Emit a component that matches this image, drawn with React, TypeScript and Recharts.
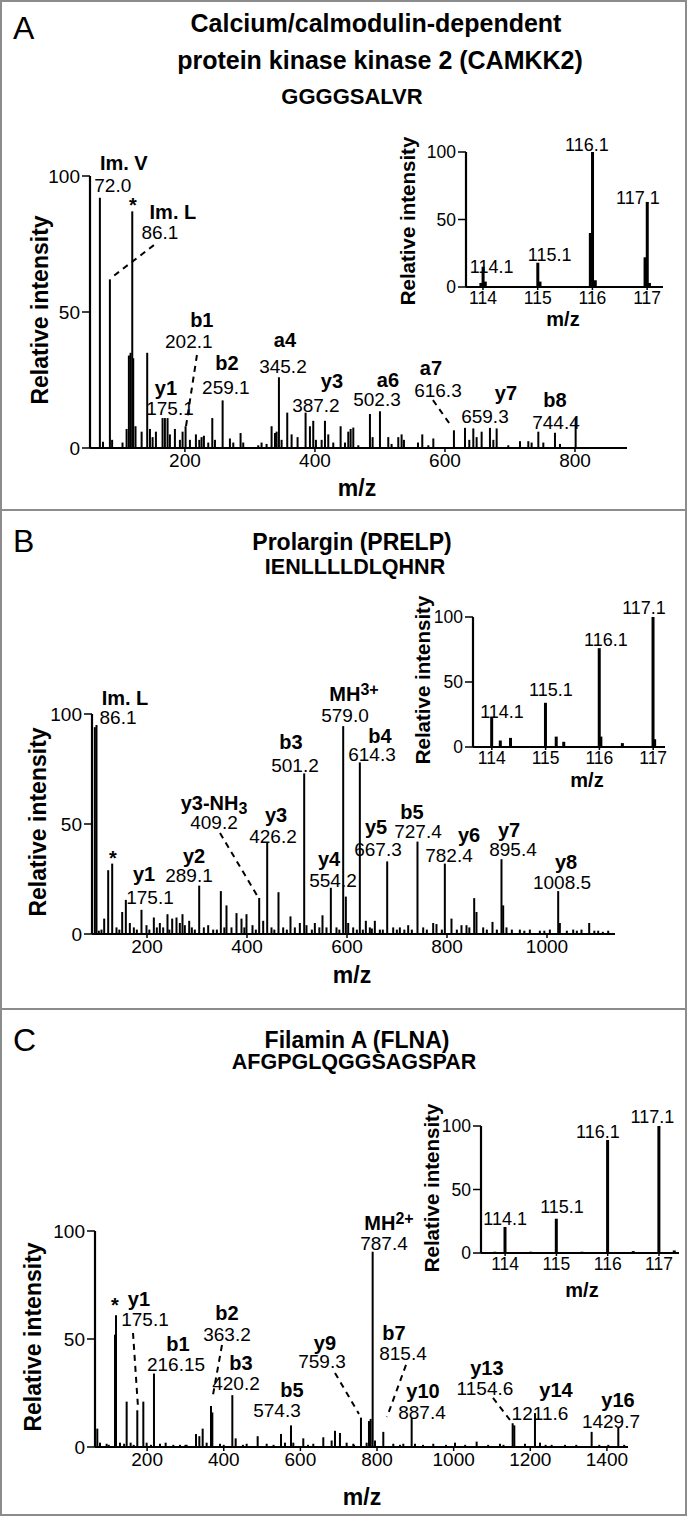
import React from 'react';
import { BarChart, Bar, XAxis, YAxis, ReferenceDot, ReferenceLine } from 'recharts';

type Pair = [number, number];
type Note = { t: string; b?: boolean; x: number; y: number; sub?: string; sup?: string };
type Seg = [number, number, number, number];

const FONT = '"Liberation Sans", Arial, Helvetica, sans-serif';

const yTicks = [0, 50, 100];
const reporterTicks = [114, 115, 116, 117];

// ---------- A: CAMKK2 ----------
const titleA = ['Calcium/calmodulin-dependent', 'protein kinase kinase 2 (CAMKK2)', 'GGGGSALVR'];
const ticksA = [200, 400, 600, 800];
// [m/z, relative intensity]
const spectrumA: Pair[] = [
  [69.2, 92], [74, 2.3], [84.6, 62], [88, 3], [104, 2], [110.3, 7], [113.8, 34], [116.4, 35], [119, 87], [120.5, 33],
  [124, 8], [133.4, 6], [142, 35], [146.2, 7], [150.3, 4], [155.4, 6], [165.6, 11], [169.2, 11], [173.3, 11], [176.9, 5],
  [184.6, 7], [192.3, 3], [196.4, 6], [201, 8], [207.7, 3], [216.9, 5], [222.1, 3], [225.6, 4], [229.2, 4.5], [235.9, 2],
  [242.1, 11], [246.2, 3], [258, 17.5], [269.2, 3.5], [274.4, 2], [285.6, 5.5], [289.7, 2], [312.8, 1], [317.9, 2], [325.6, 1.5],
  [333.3, 8], [338.5, 5.5], [341, 6], [344.6, 26], [348.7, 3], [357.4, 13], [364.1, 5], [373.3, 4], [385.6, 13], [392.3, 8],
  [397.4, 10], [401.5, 3], [410.3, 3], [415.4, 10], [420.5, 5], [428.2, 2], [439.5, 8], [446.2, 2], [451.3, 6], [454.9, 7],
  [459, 7.5], [466.7, 1], [484.6, 12.5], [488.7, 4], [500, 13.5], [512.8, 4], [517.9, 1.5], [528.2, 4], [533.3, 5], [536.9, 3],
  [558.5, 2], [565.1, 5], [574.4, 1], [582.1, 3.5], [613.8, 6.5], [630.8, 7.4], [637.4, 3], [643.6, 7.2], [648.7, 4], [656.4, 6],
  [669.2, 7.4], [674.4, 3], [679.5, 7.2], [697.4, 1], [715.4, 2.5], [728.2, 2.5], [733.3, 2], [743.6, 6], [751.3, 2], [769.2, 5.6],
  [776.9, 1.5], [801, 11],
];
const reporterA: Pair[] = [
  [113.96, 3], [114, 15], [114.04, 4], [115, 18], [115.04, 4], [115.96, 40], [116, 100], [116.05, 5], [116.96, 22], [117, 63], [117.04, 3],
];
const notesA: Note[] = [
  { t: 'Im. V', b: true, x: 106, y: 104.6 }, { t: '72.0', x: 89, y: 96.5 },
  { t: '*', b: true, x: 120, y: 92 },
  { t: 'Im. L', b: true, x: 181.5, y: 86.8 }, { t: '86.1', x: 161.5, y: 79.4 },
  { t: 'b1', b: true, x: 226, y: 47.1 }, { t: '202.1', x: 206, y: 39 },
  { t: 'b2', b: true, x: 264.6, y: 31.2 }, { t: '259.1', x: 263, y: 22.4 },
  { t: 'y1', b: true, x: 170.8, y: 22.1 }, { t: '175.1', x: 177, y: 14.7 },
  { t: 'a4', b: true, x: 353.8, y: 39.7 }, { t: '345.2', x: 350.8, y: 30.1 },
  { t: 'y3', b: true, x: 426.2, y: 24.6 }, { t: '387.2', x: 401.5, y: 15.8 },
  { t: 'a6', b: true, x: 512.3, y: 25 }, { t: '502.3', x: 495.4, y: 18 },
  { t: 'a7', b: true, x: 578.5, y: 29.4 }, { t: '616.3', x: 589.2, y: 21.3 },
  { t: 'y7', b: true, x: 693.8, y: 20.2 }, { t: '659.3', x: 661.5, y: 11.4 },
  { t: 'b8', b: true, x: 769.2, y: 17.6 }, { t: '744.4', x: 770.8, y: 9.2 },
];
const leadersA: Seg[] = [[152.3, 74.6, 86.2, 62.5], [218.5, 34.2, 201.5, 7.7], [581.5, 17.6, 610.8, 7.7]];
const insetNotesA: Note[] = [
  { t: '114.1', x: 114.16, y: 14.8 }, { t: '115.1', x: 115.22, y: 23.7 },
  { t: '116.1', x: 115.9, y: 105.2 }, { t: '117.1', x: 116.83, y: 65.9 },
];

// ---------- B: PRELP ----------
const titleB = ['Prolargin (PRELP)', 'IENLLLLDLQHNR'];
const ticksB = [200, 400, 600, 800, 1000];
const spectrumB: Pair[] = [
  [96, 94], [99.3, 95], [104, 1.5], [109.3, 2], [114.7, 7], [122.7, 29], [130.7, 32], [139.3, 3], [145, 2], [150.7, 10],
  [158, 15.5], [166, 5], [174, 3], [180, 2], [189.3, 11], [199.3, 4], [205, 2], [214, 7.5], [220, 3], [226, 5],
  [232.7, 3], [241.3, 9], [245, 2], [250.7, 7], [259.3, 7.5], [266, 5], [271.3, 9], [276, 4], [284.7, 6], [290, 3],
  [296, 2], [304.7, 22], [314, 3], [322.7, 4], [332.7, 2], [340, 2], [348, 19.5], [355, 3], [359.3, 13], [369.3, 3],
  [379.3, 9.5], [389.3, 7], [395, 3], [399.3, 9], [411.3, 4], [418, 2], [424.7, 16.4], [432.7, 6], [440.7, 41.4], [449.3, 3],
  [455, 2], [463.3, 19], [472.7, 3], [480, 2], [487.3, 8], [496, 3], [506, 5], [514.7, 73], [519.3, 4], [530, 2],
  [536, 5], [545, 3], [551.3, 8.5], [559.3, 3], [568, 21], [579.3, 3], [585, 2], [592.7, 94.5], [598, 17], [602.7, 5],
  [612.7, 3], [620, 2], [626, 78], [632, 2], [638, 6], [646, 3], [650, 2.5], [656, 6], [666, 2], [672, 2],
  [680.7, 33], [692.7, 3], [700, 2], [706, 3], [715, 2], [722.7, 4], [730, 2], [741.3, 42], [752.7, 3], [760, 2],
  [772.7, 5], [779.3, 4.5], [790, 2], [796, 32], [809.3, 7], [820, 2], [829.3, 4], [839.3, 4], [845, 3], [854.7, 16.3],
  [859.3, 10], [872.7, 3], [880, 2], [891.3, 5.5], [900, 2], [909.3, 34], [912.7, 13], [919.3, 3], [930, 2], [946, 2],
  [955, 1.5], [966, 2], [986, 1.5], [995, 1.5], [1006, 2], [1022.7, 19.5], [1026, 5], [1040, 1.5], [1052.7, 2], [1060, 1.5],
  [1069.3, 2], [1084.7, 5], [1095, 1.5], [1102.7, 1.5], [1112, 1], [1122.7, 1.5],
];
const reporterB: Pair[] = [
  [114, 23], [114.16, 5], [114.35, 7], [115, 34], [115.2, 8], [115.34, 4], [116, 76], [116.03, 8], [116.43, 3], [117, 100], [117.03, 6],
];
const notesB: Note[] = [
  { t: 'Im. L', b: true, x: 156, y: 107.3 }, { t: '86.1', x: 142, y: 98.6 },
  { t: '*', b: true, x: 132, y: 38 },
  { t: 'y1', b: true, x: 194, y: 27.3 }, { t: '175.1', x: 206, y: 16.8 },
  { t: 'y2', b: true, x: 294, y: 35.5 }, { t: '289.1', x: 284, y: 26.4 },
  { t: 'y3-NH', sub: '3', b: true, x: 334, y: 59.5 }, { t: '409.2', x: 334, y: 50.9 },
  { t: 'y3', b: true, x: 458, y: 54.1 }, { t: '426.2', x: 452, y: 44.5 },
  { t: 'b3', b: true, x: 488, y: 87.3 }, { t: '501.2', x: 496, y: 76.8 },
  { t: 'y4', b: true, x: 564, y: 34.1 }, { t: '554.2', x: 572, y: 24.5 },
  { t: 'MH', sup: '3+', b: true, x: 614, y: 109.1 }, { t: '579.0', x: 596, y: 99.1 },
  { t: 'b4', b: true, x: 666, y: 90 }, { t: '614.3', x: 650, y: 81.4 },
  { t: 'y5', b: true, x: 658, y: 48.6 }, { t: '667.3', x: 662, y: 38.6 },
  { t: 'b5', b: true, x: 730, y: 55.5 }, { t: '727.4', x: 742, y: 46.4 },
  { t: 'y6', b: true, x: 844, y: 45 }, { t: '782.4', x: 804, y: 35.9 },
  { t: 'y7', b: true, x: 924, y: 47.3 }, { t: '895.4', x: 932, y: 38.2 },
  { t: 'y8', b: true, x: 1038, y: 32.7 }, { t: '1008.5', x: 1030, y: 23.2 },
];
const leadersB: Seg[] = [[346, 45.9, 422, 16.8]];
const insetNotesB: Note[] = [
  { t: '114.1', x: 114.19, y: 26.9 }, { t: '115.1', x: 115.1, y: 43.8 },
  { t: '116.1', x: 116.12, y: 82.3 }, { t: '117.1', x: 116.83, y: 106.9 },
];

// ---------- C: FLNA ----------
const titleC = ['Filamin A (FLNA)', 'AFGPGLQGGSAGSPAR'];
const ticksC = [200, 400, 600, 800, 1000, 1200, 1400];
const spectrumC: Pair[] = [
  [70, 8.5], [77, 2], [94.4, 1.5], [100, 1], [116.2, 52], [118.8, 61], [129.2, 2], [140, 1.5], [146.6, 21], [157, 2],
  [165, 1], [174.4, 17], [190.1, 21], [198.8, 2], [210, 1], [217.9, 34], [233.6, 1.5], [248.4, 2], [268.4, 1], [285.8, 1],
  [300, 1], [303.2, 1], [327.6, 6], [336.3, 5], [345, 8.5], [355.4, 2], [366.7, 19], [370.2, 16], [390.2, 1.5], [400, 1],
  [422.4, 24], [431.1, 4], [450, 1], [459.8, 1.5], [488.5, 5], [512, 1.5], [530, 1], [549.4, 6], [559.8, 2], [575.5, 10],
  [581.5, 2], [607.6, 4], [620, 1], [633.7, 1.5], [659.8, 4.5], [681.6, 3], [690.3, 7.5], [703.3, 6.5], [720.7, 2], [738.1, 1.5],
  [740, 1], [758.1, 13.6], [772.9, 2], [779, 12], [783.4, 13], [788.6, 90.4], [794.7, 3], [816.4, 7], [842.5, 1.5], [860, 1],
  [868.6, 1.5], [890.4, 13.6], [899.1, 1.5], [920, 1], [946.8, 1.5], [980, 1], [1003.5, 2], [1030, 1], [1060, 2.5], [1090, 1],
  [1120.9, 1.5], [1130, 1], [1154, 11], [1158.3, 10], [1186.1, 1.5], [1212.2, 15.7], [1225.3, 2], [1240, 1], [1255.7, 1], [1290.5, 1],
  [1320, 1], [1360.1, 7], [1380, 1], [1403.6, 1], [1429.7, 8.8], [1445, 1],
];
const reporterC: Pair[] = [
  [113.8, 1], [114, 20.5], [114.5, 1], [115, 27], [115.5, 1], [116, 89], [116.5, 1.5], [117, 100], [117.3, 2],
];
const notesC: Note[] = [
  { t: '*', b: true, x: 116.2, y: 69 },
  { t: 'y1', b: true, x: 178.8, y: 68.5 }, { t: '175.1', x: 194.5, y: 58.8 },
  { t: 'b1', b: true, x: 280.6, y: 47.7 }, { t: '216.15', x: 275.4, y: 38.4 },
  { t: 'b2', b: true, x: 408.5, y: 62 }, { t: '363.2', x: 408.5, y: 52.3 },
  { t: 'b3', b: true, x: 445, y: 38.9 }, { t: '420.2', x: 432, y: 29.6 },
  { t: 'b5', b: true, x: 578.1, y: 26.4 }, { t: '574.3', x: 539, y: 17.1 },
  { t: 'y9', b: true, x: 664.2, y: 48.1 }, { t: '759.3', x: 656.4, y: 39.4 },
  { t: 'MH', sup: '2+', b: true, x: 831.2, y: 103.7 }, { t: '787.4', x: 818.2, y: 94 },
  { t: 'b7', b: true, x: 844.3, y: 52.8 }, { t: '815.4', x: 867.8, y: 43.1 },
  { t: 'y10', b: true, x: 919.9, y: 25.9 }, { t: '887.4', x: 917.3, y: 16.2 },
  { t: 'y13', b: true, x: 1086.9, y: 36.6 }, { t: '1154.6', x: 1081.7, y: 27.3 },
  { t: 'y14', b: true, x: 1267, y: 26.4 }, { t: '1211.6', x: 1225.2, y: 15.7 },
  { t: 'y16', b: true, x: 1428.8, y: 21.8 }, { t: '1429.7', x: 1410.6, y: 11.6 },
];
const leadersC: Seg[] = [
  [163.2, 52.8, 176.2, 18.5], [395.4, 47.2, 371.9, 24.1], [690.3, 34.3, 752.9, 15.3],
  [875.6, 38, 826, 13.9], [1102.6, 22.7, 1147, 12.5],
];
const insetNotesC: Note[] = [
  { t: '114.1', x: 114, y: 26.8 }, { t: '115.1', x: 115.11, y: 36.2 },
  { t: '116.1', x: 115.81, y: 95.3 }, { t: '117.1', x: 116.87, y: 107.1 },
];

// chart boxes: left, top, width, height, yAxis width, margin top, margin right, xAxis height
const boxes = {
  mainA: [0, 120, 660, 360, 90, 56, 33, 32],
  insetA: [376, 130, 307, 187, 90, 22, 20, 30],
  mainB: [0, 660, 640, 306, 92, 54, 25, 32],
  insetB: [383, 595, 302, 182, 90, 22, 20, 30],
  mainC: [0, 1180, 650, 299, 95, 51, 22, 32],
  insetC: [391, 1104, 296, 179, 90, 22, 8, 30],
};

const stick = (w: number) => (p: any) => {
  const cx = p.x + p.width / 2;
  return <rect x={cx - w / 2} y={p.y} width={w} height={Math.max(0, p.height)} fill="#000" />;
};

const noteShape = (n: Note, size: number, bsize: number) => (p: any) => (
  <text
    x={p.cx}
    y={p.cy}
    textAnchor="middle"
    dominantBaseline={n.t === '*' ? 'hanging' : 'central'}
    fontSize={n.b ? bsize : size}
    fontWeight={n.b ? 700 : 400}
    fontFamily={FONT}
    fill="#000"
  >
    {n.t}
    {n.sub && <tspan dy={5} fontSize={bsize * 0.8}>{n.sub}</tspan>}
    {n.sup && <tspan dy={-5} fontSize={bsize * 0.8}>{n.sup}</tspan>}
  </text>
);

function Spectrum({ box, domain, xTicks, peaks, notes, leaders = [], barW, font, noteFont, nameFont, xTickSize = 4 }: any) {
  const [left, top, width, height, yW, mTop, mRight, xH] = box;
  const data = peaks.map(([mz, i]: Pair) => ({ mz, i }));
  return (
    <div style={{ position: 'absolute', left, top }}>
      <BarChart width={width} height={height} data={data} margin={{ top: mTop, right: mRight, bottom: 0, left: 0 }}>
        <XAxis
          type="number"
          dataKey="mz"
          domain={domain}
          allowDataOverflow
          ticks={xTicks}
          interval={0}
          height={xH}
          tickSize={xTickSize}
          tickLine={{ stroke: '#000', strokeWidth: 1.5 }}
          axisLine={{ stroke: '#000', strokeWidth: 2.2 }}
          tick={{ fontSize: font, fill: '#000', fontFamily: FONT }}
        />
        <YAxis
          type="number"
          domain={[0, 100]}
          allowDataOverflow
          ticks={yTicks}
          interval={0}
          width={yW}
          tickSize={8}
          tickLine={{ stroke: '#000', strokeWidth: 1.5 }}
          axisLine={{ stroke: '#000', strokeWidth: 2.2 }}
          tick={{ fontSize: font, fill: '#000', fontFamily: FONT }}
        />
        <Bar dataKey="i" isAnimationActive={false} shape={stick(barW)} />
        {leaders.map((s: Seg, k: number) => (
          <ReferenceLine
            key={'l' + k}
            segment={[{ x: s[0], y: s[1] }, { x: s[2], y: s[3] }]}
            stroke="#000"
            strokeWidth={2}
            strokeDasharray="6 5"
            ifOverflow="visible"
          />
        ))}
        {notes.map((n: Note, k: number) => (
          <ReferenceDot key={'n' + k} x={n.x} y={n.y} r={0} ifOverflow="visible" shape={noteShape(n, noteFont, nameFont)} />
        ))}
      </BarChart>
    </div>
  );
}

const Txt = ({ x, y, size, bold, rot, left, children }: any) => (
  <div
    style={{
      position: 'absolute',
      left: x,
      top: y,
      transform: `translate(${left ? '0' : '-50%'},-50%)${rot ? ' rotate(-90deg)' : ''}`,
      fontSize: size,
      fontWeight: bold ? 700 : 400,
      whiteSpace: 'nowrap',
      lineHeight: 1,
      color: '#000',
    }}
  >
    {children}
  </div>
);

export default function App() {
  return (
    <div style={{ position: 'absolute', left: 0, top: 0, width: 689, height: 1519, background: '#fff', fontFamily: FONT, overflow: 'hidden' }}>
      <div style={{ position: 'absolute', left: 0, top: 0, width: 687, height: 1516, boxSizing: 'border-box', border: '2px solid #8c8c8c' }} />
      <div style={{ position: 'absolute', left: 0, top: 509, width: 687, height: 2, background: '#8c8c8c' }} />
      <div style={{ position: 'absolute', left: 0, top: 1008, width: 687, height: 2, background: '#8c8c8c' }} />

      {/* Panel A */}
      <Txt x={13} y={28} size={32} left>A</Txt>
      <Txt x={376} y={23} size={25} bold>{titleA[0]}</Txt>
      <Txt x={380} y={60} size={25} bold>{titleA[1]}</Txt>
      <Txt x={352} y={97} size={22} bold>{titleA[2]}</Txt>
      <Spectrum box={boxes.mainA} domain={[54, 880]} xTicks={ticksA} peaks={spectrumA} notes={notesA} leaders={leadersA} barW={2} font={19} noteFont={19} nameFont={20} />
      <Spectrum box={boxes.insetA} domain={[113.69, 117.29]} xTicks={reporterTicks} peaks={reporterA} notes={insetNotesA} barW={3} font={17.5} noteFont={18} nameFont={18} xTickSize={3} />
      <Txt x={40} y={310} size={23} bold rot>Relative intensity</Txt>
      <Txt x={357} y={488} size={23} bold>m/z</Txt>
      <Txt x={408} y={221} size={20.5} bold rot>Relative intensity</Txt>
      <Txt x={563} y={319} size={20} bold>m/z</Txt>

      {/* Panel B */}
      <Txt x={13} y={541} size={32} left>B</Txt>
      <Txt x={352} y={542} size={23} bold>{titleB[0]}</Txt>
      <Txt x={355} y={568} size={21.5} bold>{titleB[1]}</Txt>
      <Spectrum box={boxes.mainB} domain={[90, 1136]} xTicks={ticksB} peaks={spectrumB} notes={notesB} leaders={leadersB} barW={2} font={19} noteFont={19} nameFont={20} />
      <Spectrum box={boxes.insetB} domain={[113.65, 117.22]} xTicks={reporterTicks} peaks={reporterB} notes={insetNotesB} barW={3} font={17.5} noteFont={18} nameFont={18} xTickSize={3} />
      <Txt x={38} y={822} size={23} bold rot>Relative intensity</Txt>
      <Txt x={352} y={975} size={23} bold>m/z</Txt>
      <Txt x={423} y={680} size={20.5} bold rot>Relative intensity</Txt>
      <Txt x={587} y={780} size={20} bold>m/z</Txt>

      {/* Panel C */}
      <Txt x={13} y={1040} size={32} left>C</Txt>
      <Txt x={357} y={1040} size={23} bold>{titleC[0]}</Txt>
      <Txt x={354} y={1063} size={21.5} bold>{titleC[1]}</Txt>
      <Spectrum box={boxes.mainC} domain={[64, 1455]} xTicks={ticksC} peaks={spectrumC} notes={notesC} leaders={leadersC} barW={2} font={19} noteFont={19} nameFont={20} />
      <Spectrum box={boxes.insetC} domain={[113.53, 117.39]} xTicks={reporterTicks} peaks={reporterC} notes={insetNotesC} barW={3} font={17.5} noteFont={18} nameFont={18} xTickSize={3} />
      <Txt x={33} y={1337} size={23} bold rot>Relative intensity</Txt>
      <Txt x={362} y={1497} size={23} bold>m/z</Txt>
      <Txt x={432} y={1188} size={20.5} bold rot>Relative intensity</Txt>
      <Txt x={582} y={1290} size={20} bold>m/z</Txt>
    </div>
  );
}
